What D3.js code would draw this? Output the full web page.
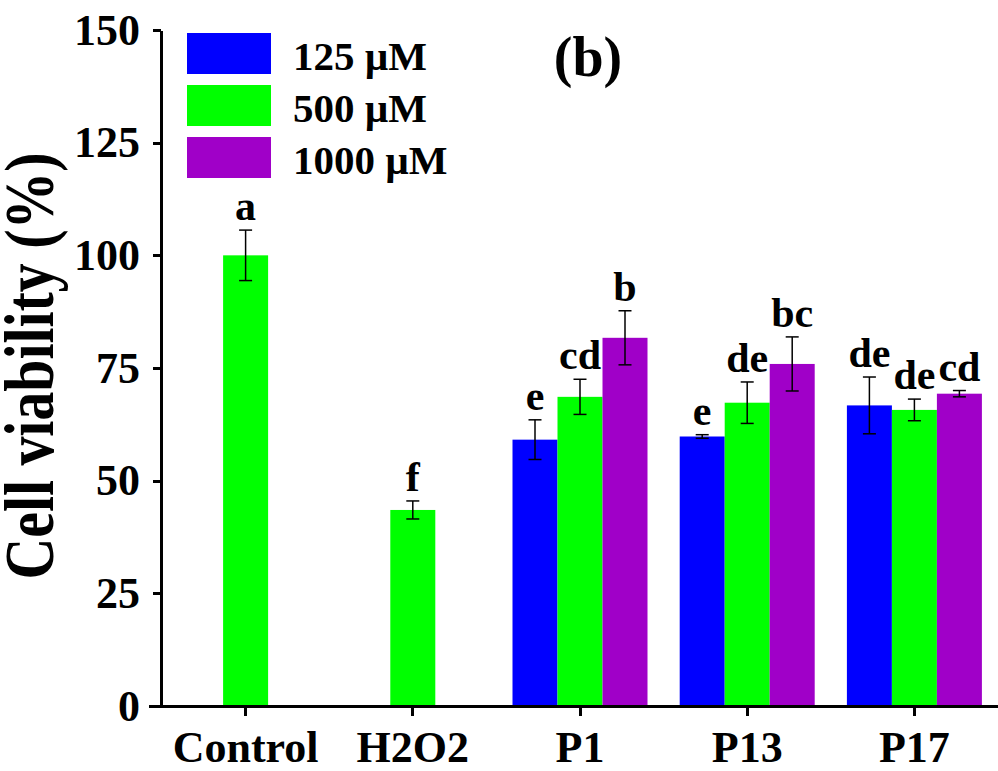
<!DOCTYPE html>
<html lang="en">
<head>
	<meta charset="utf-8">
	<title>Cell viability</title>
	<style type="text/css">
		body {
			margin: 0;
			background: #fff;
		}
		svg text {
			font-family: "Liberation Serif", "Times New Roman", Times, "DejaVu Serif", serif !important;
			font-weight: bold;
			fill: #000;
		}
		.axis path,
		.axis line {
			stroke: #000;
			stroke-width: 3;
			shape-rendering: crispEdges;
		}
		.axis text {
			font-size: 44px;
		}
	</style>
</head>
<body>
	<div id="vis"></div>

	<script src="https://cdnjs.cloudflare.com/ajax/libs/d3/7.8.5/d3.min.js"></script>
	<script type="text/javascript">

		var w = 998;
		var h = 771;
		var serif = "'Liberation Serif', 'Times New Roman', Times, 'DejaVu Serif', serif";

		var categories = ["Control", "H2O2", "P1", "P13", "P17"];
		var seriesNames = ["125 µM", "500 µM", "1000 µM"];
		var seriesColors = ["#0000ff", "#00ff00", "#a000c8"];

		var mean125  = [null, null, 59.1, 59.8, 66.7];
		var mean500  = [100, 43.5, 68.6, 67.3, 65.7];
		var mean1000 = [null, null, 81.7, 75.9, 69.3];

		var sd125  = [null, null, 4.4, 0.4, 6.3];
		var sd500  = [5.6, 2.0, 3.9, 4.6, 2.4];
		var sd1000 = [null, null, 6.0, 6.0, 0.7];

		var letters125  = [null, null, "e", "e", "de"];
		var letters500  = ["a", "f", "cd", "de", "de"];
		var letters1000 = [null, null, "b", "bc", "cd"];

		var yTicks = [0, 25, 50, 75, 100, 125, 150];

		var means = [mean125, mean500, mean1000];
		var sds = [sd125, sd500, sd1000];
		var letters = [letters125, letters500, letters1000];

		//Flatten into one record per bar
		var bars = [];
		categories.forEach(function(c, i) {
			seriesNames.forEach(function(s, j) {
				if (means[j][i] != null) {
					bars.push({ cat: c, series: s, color: seriesColors[j],
						mean: means[j][i], sd: sds[j][i], letter: letters[j][i] });
				}
			});
		});

		var xScale = d3.scaleBand()
						.domain(categories)
						.range([162, 998])
						.padding(0);

		var xSub = d3.scaleBand()
						.domain(seriesNames)
						.range([-67.5, 67.5]);

		var yScale = d3.scaleLinear()
						.domain([0, 150])
						.range([706, 30]);

		function barCenter(d) {
			return xScale(d.cat) + xScale.bandwidth() / 2 + xSub(d.series) + xSub.bandwidth() / 2;
		}

		var svg = d3.select("#vis")
					.append("svg")
					.attr("width", w)
					.attr("height", h);

		//Bars
		svg.selectAll("rect.bar")
			.data(bars)
			.enter()
			.append("rect")
			.attr("class", "bar")
			.attr("x", function(d) { return barCenter(d) - xSub.bandwidth() / 2; })
			.attr("y", function(d) { return yScale(d.mean); })
			.attr("width", xSub.bandwidth())
			.attr("height", function(d) { return yScale(0) - yScale(d.mean); })
			.attr("fill", function(d) { return d.color; });

		//Error bars
		var err = svg.selectAll("g.err")
			.data(bars)
			.enter()
			.append("g")
			.attr("class", "err")
			.attr("transform", function(d) { return "translate(" + barCenter(d) + ",0)"; })
			.attr("stroke", "#000")
			.attr("stroke-width", 1.5);

		err.append("line")
			.attr("x1", 0).attr("x2", 0)
			.attr("y1", function(d) { return yScale(d.mean + d.sd); })
			.attr("y2", function(d) { return yScale(d.mean - d.sd); });

		err.append("line")
			.attr("x1", -6.5).attr("x2", 6.5)
			.attr("y1", function(d) { return yScale(d.mean + d.sd); })
			.attr("y2", function(d) { return yScale(d.mean + d.sd); });

		err.append("line")
			.attr("x1", -6.5).attr("x2", 6.5)
			.attr("y1", function(d) { return yScale(d.mean - d.sd); })
			.attr("y2", function(d) { return yScale(d.mean - d.sd); });

		//Significance letters
		svg.selectAll("text.letter")
			.data(bars)
			.enter()
			.append("text")
			.attr("class", "letter")
			.attr("text-anchor", "middle")
			.attr("x", barCenter)
			.attr("y", function(d) { return yScale(d.mean + d.sd) - 10; })
			.attr("font-family", serif)
			.attr("font-size", "42px")
			.text(function(d) { return d.letter; });

		//Y axis
		var yAxis = d3.axisLeft(yScale)
						.tickValues(yTicks)
						.tickSize(8)
						.tickSizeOuter(0)
						.tickPadding(13);

		var gy = svg.append("g")
			.attr("class", "axis")
			.attr("transform", "translate(161,0)")
			.call(yAxis);
		gy.attr("font-family", serif);

		//X axis
		var xAxis = d3.axisBottom(xScale)
						.tickSize(10)
						.tickSizeOuter(0)
						.tickPadding(15);

		var gx = svg.append("g")
			.attr("class", "axis")
			.attr("transform", "translate(0,706)")
			.call(xAxis);
		gx.attr("font-family", serif);
		gx.select(".domain").remove();
		gx.append("line")
			.attr("x1", 149).attr("x2", 998)
			.attr("y1", 0).attr("y2", 0);

		//Y label
		svg.append("text")
			.attr("transform", "translate(53,366) rotate(-90)")
			.attr("text-anchor", "middle")
			.attr("font-family", serif)
			.attr("font-size", "70px")
			.attr("textLength", 427)
			.attr("lengthAdjust", "spacingAndGlyphs")
			.text("Cell viability (%)");

		//Panel tag
		svg.append("text")
			.attr("x", 588)
			.attr("y", 76)
			.attr("text-anchor", "middle")
			.attr("font-family", serif)
			.attr("font-size", "56px")
			.text("(b)");

		//Legend
		var legend = svg.selectAll("g.legend")
			.data(seriesNames)
			.enter()
			.append("g")
			.attr("class", "legend")
			.attr("transform", function(d, i) { return "translate(187," + (33 + i * 52) + ")"; });

		legend.append("rect")
			.attr("width", 84)
			.attr("height", 41)
			.attr("fill", function(d, i) { return seriesColors[i]; });

		legend.append("text")
			.attr("x", 106)
			.attr("y", 37)
			.attr("font-family", serif)
			.attr("font-size", "41px")
			.text(function(d) { return d; });

	</script>
</body>
</html>
